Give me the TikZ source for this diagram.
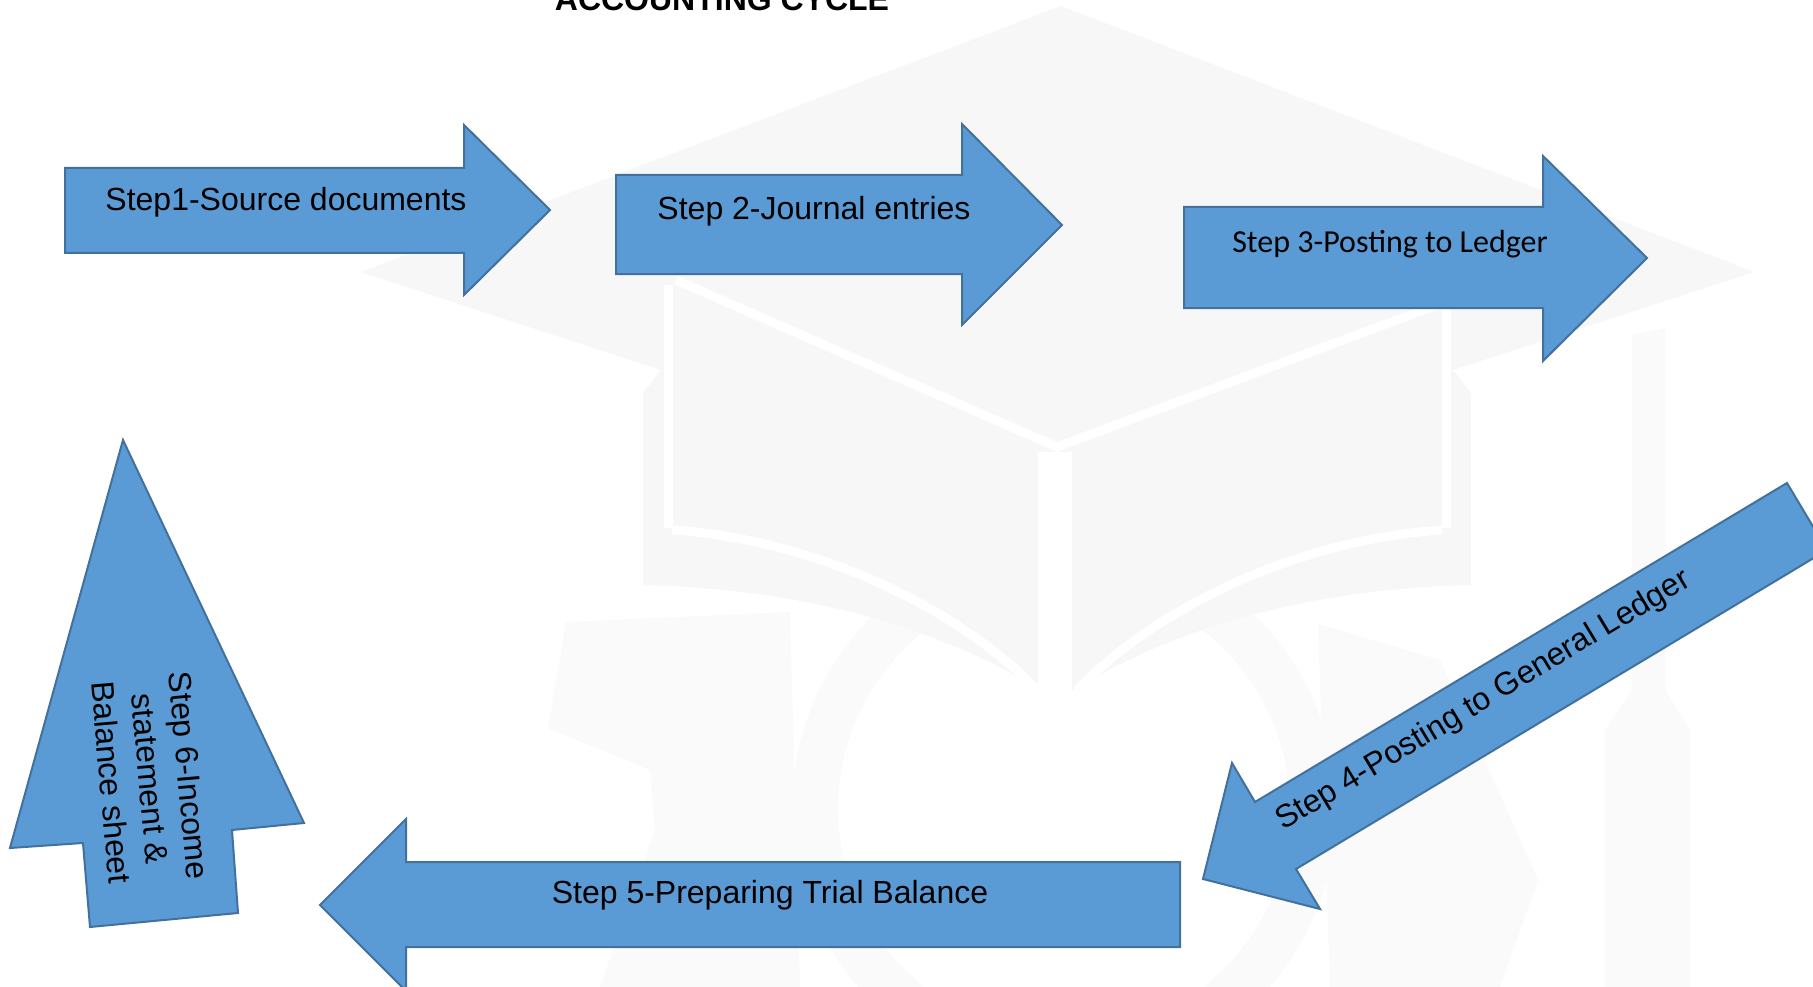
\documentclass[tikz,border=0pt]{standalone}
\usepackage{fontspec}
\setmainfont{Liberation Sans}
\newfontfamily\calibrifont{Carlito}
\definecolor{stepblue}{RGB}{91,155,213}
\definecolor{stepedge}{RGB}{65,113,156}
\definecolor{wmgray}{RGB}{247,247,247}
\definecolor{wmlight}{RGB}{250,250,250}
\tikzset{
	blockarrow/.style={draw=stepedge, fill=stepblue, line width=2pt, line join=miter},
	steptext/.style={inner sep=0pt, anchor=base, font=\fontsize{32}{39}\selectfont},
	gap/.style={draw=white, line width=9pt},
}

\begin{document}
\begin{tikzpicture}[x=1pt,y=-1pt]
	\useasboundingbox (0,0) rectangle (1813,987);
	\fill[white] (0,0) rectangle (1813,987);
	% faint logo behind the cycle
	\fill[wmlight] (1064,809) circle (272);
	\fill[white] (1064,809) circle (226);
	\fill[wmlight] (566,622) -- (790,612) -- (800,987) -- (600,987) -- (655,830) -- (650,770) -- (548,728) -- cycle;
	\fill[wmlight] (1318,624) -- (1440,660) -- (1538,880) -- (1500,987) -- (1330,987) -- cycle;
	\fill[wmlight] (1632,335) -- (1665,328) -- (1665,690) -- (1690,730) -- (1690,987) -- (1605,987) -- (1605,730) -- (1632,690) -- cycle;
	\fill[wmgray] (1061,6) -- (1754,272) -- (1453,370) -- (1471,393) -- (1471,585) .. controls (1264,590) and (1134,650) .. (1057,700)
		.. controls (980,650) and (850,590) .. (643,585) -- (643,393) -- (661,370) -- (361,272) -- cycle;
	\draw[gap] (676,280) -- (1057,447) -- (1437,305);
	\draw[gap] (668,285) -- (668,528);
	\draw[gap] (1446,300) -- (1446,528);
	\draw[white, line width=34pt] (1055,452) -- (1055,710);
	\draw[gap] (672,530) .. controls (820,540) and (960,610) .. (1037,690);
	\draw[gap] (1442,530) .. controls (1294,540) and (1154,610) .. (1077,690);
	% title
	\node[steptext, font=\fontsize{32}{39}\selectfont\bfseries] (title) at (722,11) {ACCOUNTING CYCLE};
	% steps 1 to 3
	\draw[blockarrow] (65,168) -- (464,168) -- (464,125) -- (550,210) -- (464,295) -- (464,253) -- (65,253) -- cycle;
	\node[steptext] (s1) at (286,211) {Step1-Source documents};
	\draw[blockarrow] (616,175) -- (962,175) -- (962,124) -- (1062,225) -- (962,325) -- (962,274) -- (616,274) -- cycle;
	\node[steptext] (s2) at (814,220) {Step 2-Journal entries};
	\draw[blockarrow] (1184,207) -- (1543,207) -- (1543,156) -- (1647,258) -- (1543,361) -- (1543,308) -- (1184,308) -- cycle;
	\node[steptext, font=\fontsize{32}{39}\selectfont\calibrifont] (s3) at (1390,252) {Step 3-Posting to Ledger};
	% step 4, going down to the left
	\draw[blockarrow] (1787,483) -- (1255,802) -- (1232,763) -- (1203,879) -- (1320,909) -- (1296,869) -- (1827,550) -- cycle;
	\node[steptext, rotate=31] (s4) at (1488,708) {Step 4-Posting to General Ledger};
	% step 5
	\draw[blockarrow] (1180,862) -- (406,862) -- (406,819) -- (320,905) -- (406,991) -- (406,947) -- (1180,947) -- cycle;
	\node[steptext] (s5) at (770,903) {Step 5-Preparing Trial Balance};
	% step 6, pointing up
	\draw[blockarrow] (123,440) -- (304,823) -- (232,830) -- (238,913) -- (90,927) -- (83,843) -- (10,848) -- cycle;
	\node[steptext, anchor=center, align=center, rotate=-85] (s6) at (150,779) {Step 6-Income\\statement \&\\Balance sheet};
\end{tikzpicture}
\end{document}
